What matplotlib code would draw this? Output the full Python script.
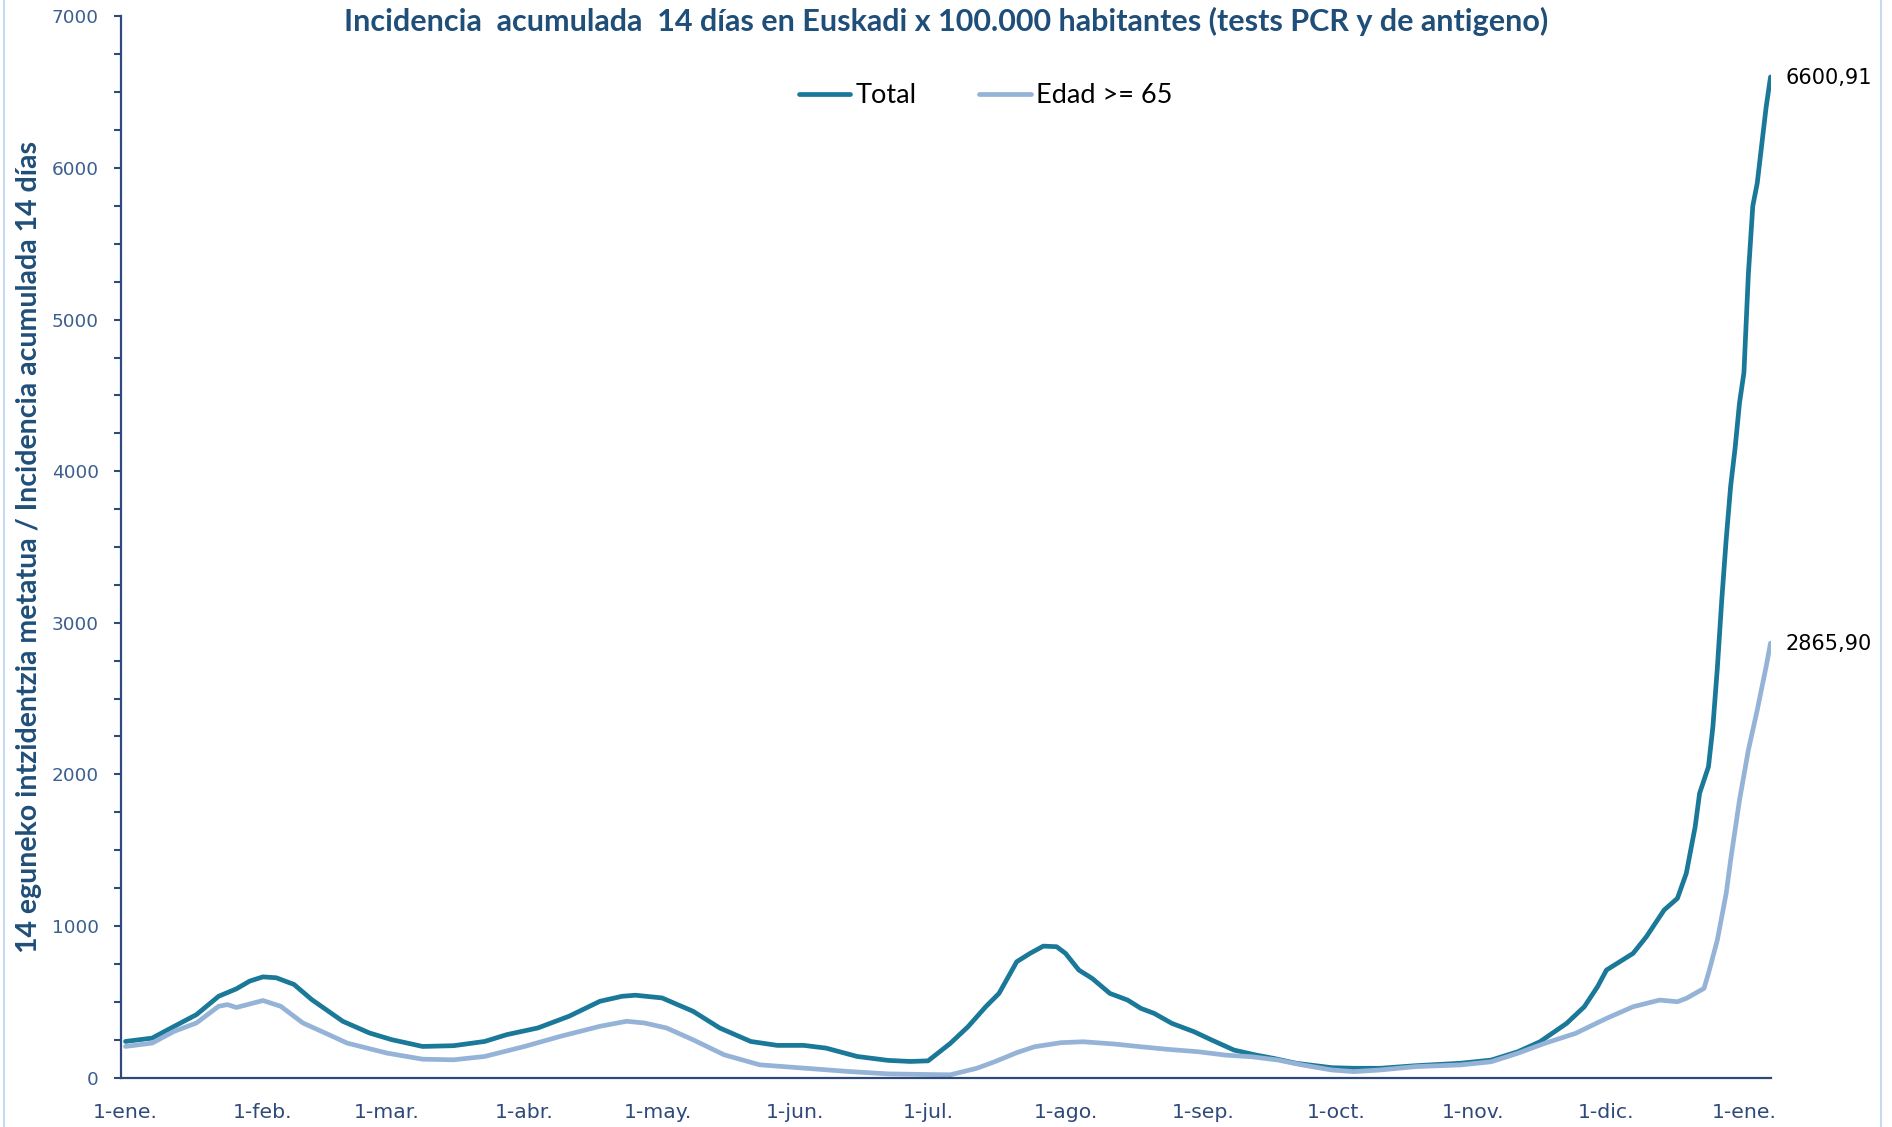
import matplotlib
matplotlib.use("Agg")
import matplotlib.pyplot as plt
from matplotlib.lines import Line2D
import pandas as pd

# Incidencia acumulada 14 dias, Euskadi
fechas_total = ["2021-01-01", "2021-01-07", "2021-01-12", "2021-01-17", "2021-01-22", "2021-01-26",
                "2021-01-29", "2021-02-01", "2021-02-04", "2021-02-08", "2021-02-12", "2021-02-19",
                "2021-02-25", "2021-03-02", "2021-03-09", "2021-03-16", "2021-03-23", "2021-03-28",
                "2021-04-04", "2021-04-11", "2021-04-18", "2021-04-23", "2021-04-26", "2021-05-02",
                "2021-05-09", "2021-05-15", "2021-05-22", "2021-05-28", "2021-06-03", "2021-06-08",
                "2021-06-15", "2021-06-22", "2021-06-27", "2021-07-01", "2021-07-06", "2021-07-10",
                "2021-07-14", "2021-07-17", "2021-07-21", "2021-07-24", "2021-07-27", "2021-07-30",
                "2021-08-01", "2021-08-04", "2021-08-07", "2021-08-11", "2021-08-15", "2021-08-18",
                "2021-08-21", "2021-08-25", "2021-08-30", "2021-09-03", "2021-09-08", "2021-09-13",
                "2021-09-17", "2021-09-22", "2021-09-30", "2021-10-05", "2021-10-11", "2021-10-19",
                "2021-10-29", "2021-11-05", "2021-11-11", "2021-11-16", "2021-11-22", "2021-11-26",
                "2021-11-29", "2021-12-01", "2021-12-07", "2021-12-10", "2021-12-14", "2021-12-17",
                "2021-12-19", "2021-12-21", "2021-12-22", "2021-12-24", "2021-12-25", "2021-12-26",
                "2021-12-27", "2021-12-28", "2021-12-29", "2021-12-30", "2021-12-31", "2022-01-01",
                "2022-01-02", "2022-01-03", "2022-01-04", "2022-01-05", "2022-01-06", "2022-01-07"]
total = [238, 260, 338, 415, 536, 585,
         636, 664, 658, 614, 514, 371,
         294, 250, 205, 210, 238, 283,
         327, 404, 503, 536, 543, 525,
         437, 327, 238, 212, 212, 194,
         139, 113, 106, 110, 225, 335,
         467, 555, 764, 819, 867, 863,
         819, 709, 654, 555, 511, 456,
         423, 357, 302, 247, 181, 148,
         126, 94, 65, 61, 61, 78,
         94, 115, 170, 236, 357, 467,
         600, 709, 819, 929, 1105, 1182,
         1347, 1654, 1875, 2050, 2314, 2700,
         3150, 3550, 3900, 4150, 4450, 4650,
         5300, 5750, 5900, 6150, 6400, 6600.91]

fechas_65 = ["2021-01-01", "2021-01-07", "2021-01-12", "2021-01-17", "2021-01-22", "2021-01-24",
             "2021-01-26", "2021-02-01", "2021-02-05", "2021-02-10", "2021-02-15", "2021-02-20",
             "2021-03-01", "2021-03-09", "2021-03-16", "2021-03-23", "2021-04-01", "2021-04-09",
             "2021-04-18", "2021-04-24", "2021-04-28", "2021-05-03", "2021-05-09", "2021-05-16",
             "2021-05-24", "2021-06-03", "2021-06-13", "2021-06-22", "2021-07-01", "2021-07-06",
             "2021-07-12", "2021-07-16", "2021-07-21", "2021-07-25", "2021-07-31", "2021-08-05",
             "2021-08-12", "2021-08-18", "2021-08-24", "2021-08-31", "2021-09-06", "2021-09-12",
             "2021-09-18", "2021-09-23", "2021-09-30", "2021-10-05", "2021-10-11", "2021-10-19",
             "2021-10-29", "2021-11-05", "2021-11-11", "2021-11-17", "2021-11-24", "2021-12-01",
             "2021-12-07", "2021-12-13", "2021-12-17", "2021-12-19", "2021-12-23", "2021-12-24",
             "2021-12-26", "2021-12-28", "2021-12-29", "2021-12-31", "2022-01-02", "2022-01-04",
             "2022-01-06", "2022-01-07"]
edad65 = [205, 227, 305, 360, 470, 481,
          462, 508, 470, 360, 294, 227,
          161, 121, 117, 139, 205, 271,
          338, 371, 360, 327, 249, 150,
          84, 62, 40, 24, 20, 18,
          61, 104, 164, 203, 230, 236,
          221, 203, 186, 170, 148, 137,
          115, 85, 50, 39, 50, 72,
          83, 104, 160, 225, 291, 390,
          467, 511, 500, 522, 588, 687,
          907, 1215, 1435, 1830, 2160, 2424,
          2710, 2865.90]

meses = ["2021-01-01", "2021-02-01", "2021-03-01", "2021-04-01", "2021-05-01", "2021-06-01",
         "2021-07-01", "2021-08-01", "2021-09-01", "2021-10-01", "2021-11-01", "2021-12-01",
         "2022-01-01"]
etiquetas_meses = ["1-ene.", "1-feb.", "1-mar.", "1-abr.", "1-may.", "1-jun.", "1-jul.",
                   "1-ago.", "1-sep.", "1-oct.", "1-nov.", "1-dic.", "1-ene."]

color_total = "#1A7898"
color_65 = "#95B3D7"
azul_oscuro = "#1F4E79"
azul_ejes = "#2F4A7A"

plt.rcParams["font.family"] = ["Lato", "DejaVu Sans"]

fig = plt.figure(figsize=(18.92, 11.27), dpi=100)
ax = fig.add_axes([0.064, 0.0439, 0.8718, 0.9415])

x_total = pd.to_datetime(fechas_total)
x_65 = pd.to_datetime(fechas_65)
ax.plot(x_total, total, color=color_total, lw=3.4, label="Total", solid_capstyle="round")
ax.plot(x_65, edad65, color=color_65, lw=3.4, label="Edad >= 65", solid_capstyle="round")

ax.set_xlim(pd.Timestamp("2020-12-31"), pd.Timestamp("2022-01-07"))
ax.set_ylim(0, 7000)
ax.set_yticks(range(0, 7001, 1000))
ax.set_yticks([v for v in range(250, 7000, 250) if v % 1000 != 0], minor=True)
ax.set_xticks(pd.to_datetime(meses))
ax.set_xticklabels(etiquetas_meses)

for s in ["top", "right"]:
    ax.spines[s].set_visible(False)
for s in ["left", "bottom"]:
    ax.spines[s].set_color(azul_ejes)
    ax.spines[s].set_linewidth(1.6)

ax.tick_params(axis="y", which="both", direction="out", length=5, width=1.5,
               color=azul_ejes, labelcolor="#3B5F8F", labelsize=13.3, pad=11)
ax.tick_params(axis="x", length=0, labelcolor=azul_ejes, labelsize=14.7, pad=18)
for lab in ax.get_xticklabels() + ax.get_yticklabels():
    lab.set_family("DejaVu Sans")

ax.set_ylabel("14 eguneko intzidentzia metatua / Incidencia acumulada 14 días",
              fontsize=20.5, fontweight="bold", color=azul_oscuro, labelpad=7)

fig.text(0.5, 0.981, "Incidencia  acumulada  14 días en Euskadi x 100.000 habitantes (tests PCR y de antigeno)",
         ha="center", va="center", fontsize=22, fontweight="bold", color=azul_oscuro)

# etiquetas del ultimo valor
ax.annotate("6600,91", xy=(x_total[-1], total[-1]), xytext=(11, -1), textcoords="offset points",
            fontsize=15, color="black", va="center", ha="left", family="DejaVu Sans")
ax.annotate("2865,90", xy=(x_65[-1], edad65[-1]), xytext=(11, -1), textcoords="offset points",
            fontsize=15, color="black", va="center", ha="left", family="DejaVu Sans")

ax.legend(loc="center", bbox_to_anchor=(0.521, 0.915), bbox_transform=fig.transFigure,
          ncol=2, frameon=False, fontsize=19.5, handlelength=1.9, handletextpad=0.2,
          columnspacing=2.3)

# borde del grafico
fig.add_artist(Line2D([0.002, 0.002], [0, 1], color="#C5D9F1", lw=1.5, transform=fig.transFigure))
fig.add_artist(Line2D([0.994, 0.994], [0, 1], color="#C5D9F1", lw=1.5, transform=fig.transFigure))

fig.savefig("out.png", dpi=100)
